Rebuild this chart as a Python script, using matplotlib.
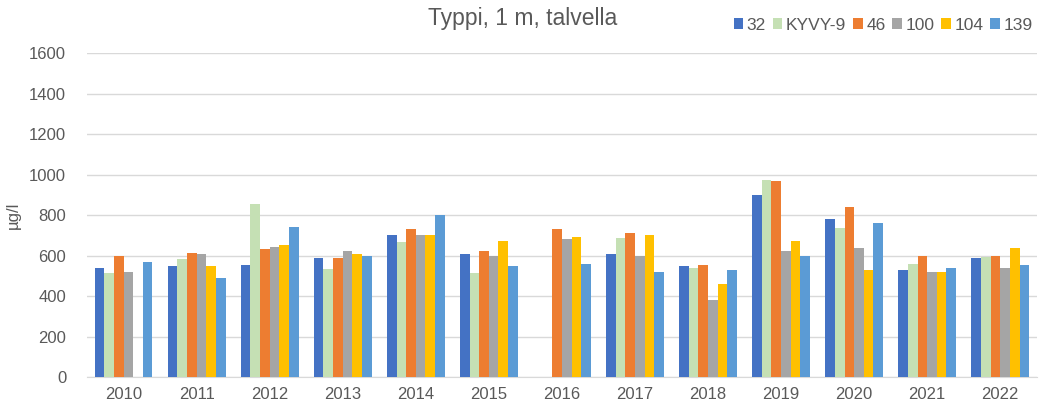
import numpy as np
import matplotlib
matplotlib.use("Agg")
import matplotlib.pyplot as plt
from matplotlib.patches import Patch

plt.rcParams["font.family"] = ["Liberation Sans", "DejaVu Sans"]

years = ["2010", "2011", "2012", "2013", "2014", "2015", "2016",
         "2017", "2018", "2019", "2020", "2021", "2022"]
series_names = ["32", "KYVY-9", "46", "100", "104", "139"]
nan = np.nan
s32 = [540, 550, 555, 590, 700, 610, nan, 610, 550, 900, 780, 530, 590]
kyvy9 = [515, 585, 855, 535, 665, 515, nan, 685, 540, 975, 735, 560, 595]
s46 = [600, 615, 630, 590, 730, 620, 730, 710, 555, 970, 840, 600, 600]
s100 = [520, 610, 640, 620, 700, 600, 680, 600, 380, 620, 635, 520, 540]
s104 = [nan, 550, 650, 610, 700, 670, 690, 700, 460, 670, 530, 520, 635]
s139 = [570, 490, 740, 600, 800, 550, 560, 520, 530, 600, 760, 540, 555]
values = [s32, kyvy9, s46, s100, s104, s139]
colors = ["#4472C4", "#C5E0B4", "#ED7D31", "#A5A5A5", "#FFC000", "#5B9BD5"]

fig = plt.figure(figsize=(10.46, 4.12), dpi=100)
ax = fig.add_axes([0.0832, 0.085, 0.908, 0.786])

x = np.arange(len(years))
n = len(values)
w = 0.132
for i, (vals, c) in enumerate(zip(values, colors)):
    offs = (i - (n - 1) / 2) * w
    ax.bar(x + offs, np.array(vals, dtype=float), width=w, color=c,
           zorder=3, linewidth=0)

ax.set_xlim(-0.5, len(years) - 0.5)
ax.set_ylim(0, 1600)
ax.set_yticks(np.arange(0, 1601, 200))
ax.set_xticks(x)
ax.set_xticklabels(years)
ax.grid(axis="y", color="#D9D9D9", linewidth=1, zorder=0)
for s in ["top", "right", "left"]:
    ax.spines[s].set_visible(False)
ax.spines["bottom"].set_color("#D9D9D9")
ax.tick_params(axis="both", length=0, colors="#595959", labelsize=12)
ax.tick_params(axis="y", pad=15)
ax.tick_params(axis="x", pad=7)
ax.set_ylabel("µg/l", color="#595959", fontsize=12, labelpad=6)

fig.text(0.5, 0.955, "Typpi, 1 m, talvella", ha="center", va="center",
         fontsize=16.5, color="#595959")

handles = [Patch(facecolor=c, edgecolor="none") for c in colors]
leg = fig.legend(handles, series_names, loc="center right",
                 bbox_to_anchor=(0.987, 0.939), ncol=6, frameon=False,
                 fontsize=12.5, handlelength=0.55, handleheight=0.55,
                 handletextpad=0.2, columnspacing=0.4, borderaxespad=0,
                 borderpad=0)
for t in leg.get_texts():
    t.set_color("#595959")

fig.savefig("out.png", dpi=100)
